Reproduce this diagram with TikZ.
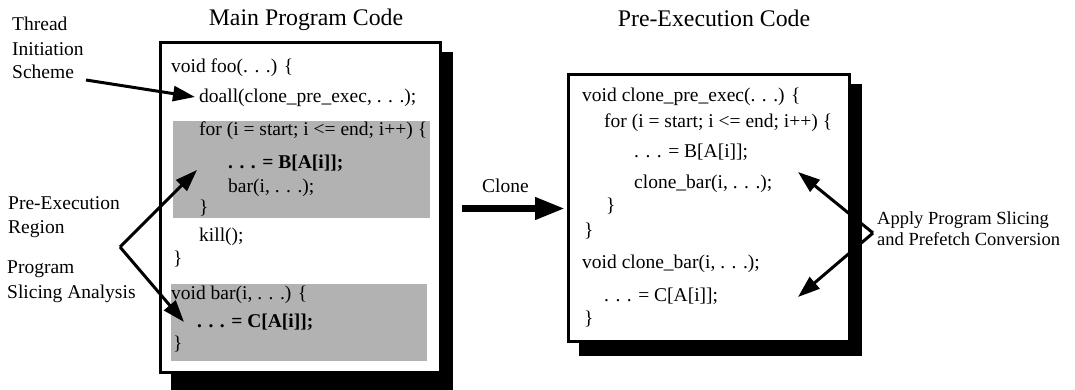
\documentclass[tikz,border=0pt]{standalone}
\usepackage{fontspec}
\setmainfont{Liberation Serif}
\usetikzlibrary{arrows.meta}
\begin{document}
\begin{tikzpicture}[x=1pt,y=-1pt,
  code/.style={anchor=base west, inner sep=0pt, font=\fontsize{19.5}{22}\selectfont},
  lbl/.style={anchor=base west, inner sep=0pt, font=\fontsize{19.5}{22}\selectfont},
  rlbl/.style={anchor=base west, inner sep=0pt, font=\fontsize{18.5}{22}\selectfont},
  ttl/.style={anchor=base, inner sep=0pt, font=\fontsize{23.8}{26}\selectfont},
  codebox/.style={draw, line width=3pt, fill=white},
  shadowbox/.style={fill=black},
  region/.style={fill=black!30},
  arr/.style={line width=3pt, -{Triangle[length=22pt,width=15pt]}},
  bigarr/.style={line width=7pt, -{Triangle[length=30pt,width=21pt]}},
]
\useasboundingbox (0,0) rectangle (1075,390);

% main program box
\fill[shadowbox] (171,52) rectangle (453,390);
\draw[codebox] (160.5,42.5) rectangle (440.5,372.5);
\fill[region] (173,121) rectangle (430,218);
\fill[region] (171,284) rectangle (427,361);

\node[ttl] (t1) at (306,25.5) {Main Program Code};
\node[code] (m1) at (171,73) {void foo(. . .) \{};
\node[code] (m2) at (199,103) {doall(clone\_pre\_exec, . . .);};
\node[code] (m3) at (199,136) {for (i = start; i <= end; i++) \{};
\node[code] (m4) at (228,169) {\textbf{. . . = B[A[i]];}};
\node[code] (m5) at (228,193) {bar(i, . . .);};
\node[code] (m6) at (199,213) {\}};
\node[code] (m7) at (199,241) {kill();};
\node[code] (m8) at (173,264) {\}};
\node[code] (m9) at (171,299) {void bar(i, . . .) \{};
\node[code] (m10) at (197,327) {\textbf{. . . = C[A[i]];}};
\node[code] (m11) at (173,349) {\}};

% pre-execution box
\fill[shadowbox] (579,84) rectangle (862,356);
\draw[codebox] (568.5,74.5) rectangle (849.5,341.5);
\node[ttl] (t2) at (714,26.5) {Pre-Execution Code};
\node[code] (p1) at (582,102) {void clone\_pre\_exec(. . .) \{};
\node[code] (p2) at (604,128) {for (i = start; i <= end; i++) \{};
\node[code] (p3) at (634,158) {. . . = B[A[i]];};
\node[code] (p4) at (634,188) {clone\_bar(i, . . .);};
\node[code] (p5) at (606,211) {\}};
\node[code] (p6) at (584,236) {\}};
\node[code] (p7) at (582,268) {void clone\_bar(i, . . .);};
\node[code] (p8) at (604,301) {. . . = C[A[i]];};
\node[code] (p9) at (584,324) {\}};

% labels
\node[lbl] (l1) at (12,31) {Thread};
\node[lbl] (l2) at (12,56) {Initiation};
\node[lbl] (l3) at (12,79) {Scheme};
\node[lbl] (l4) at (8,209) {Pre-Execution};
\node[lbl] (l5) at (8,233) {Region};
\node[lbl] (l6) at (7,273) {Program};
\node[lbl] (l7) at (7,298) {Slicing Analysis};
\node[lbl] (l8) at (482,193) {Clone};
\node[rlbl] (l9) at (877,224) {Apply Program Slicing};
\node[rlbl] (l10) at (877,245) {and Prefetch Conversion};

% arrows
\coordinate (a0) at (86,80);
\coordinate (a1) at (195,97);
\draw[arr] (a0) -- (a1);

\coordinate (v1) at (120,247);
\coordinate (s1) at (197,170);
\coordinate (s2) at (184,322);
\draw[arr] (v1) -- (s1);
\draw[arr] (v1) -- (s2);

\coordinate (c0) at (462,208.5);
\coordinate (c1) at (565,208.5);
\draw[bigarr] (c0) -- (c1);

\coordinate (v2) at (873,233);
\coordinate (r1) at (798,172);
\coordinate (r2) at (798,297);
\draw[arr] (v2) -- (r1);
\draw[arr] (v2) -- (r2);
\end{tikzpicture}
\end{document}
